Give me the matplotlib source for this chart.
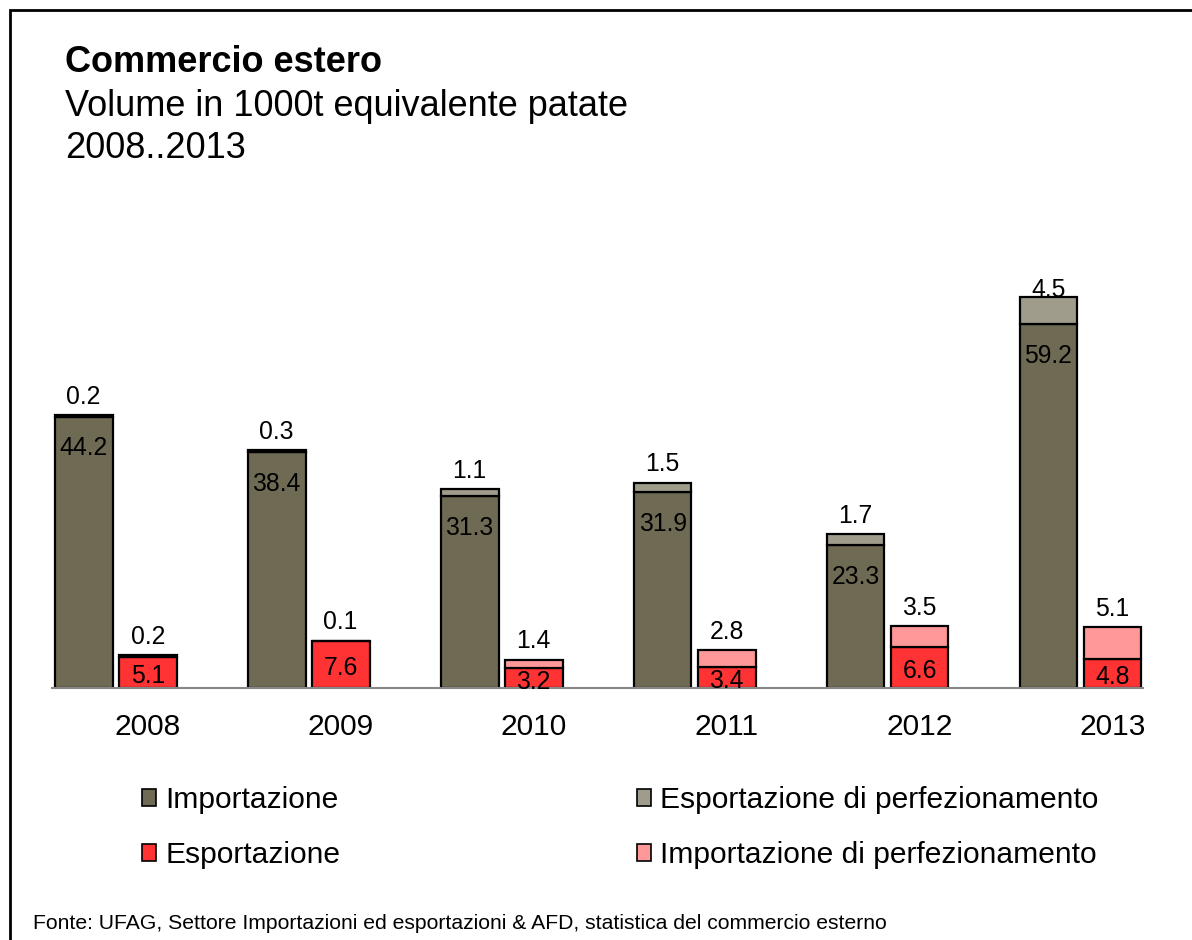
import numpy as np
import matplotlib
matplotlib.use("Agg")
import matplotlib.pyplot as plt
from matplotlib.patches import Rectangle, Patch

plt.rcParams['font.family'] = ['Liberation Sans', 'DejaVu Sans']

years = ['2008', '2009', '2010', '2011', '2012', '2013']
importazione = [44.2, 38.4, 31.3, 31.9, 23.3, 59.2]
esp_perf = [0.2, 0.3, 1.1, 1.5, 1.7, 4.5]
esportazione = [5.1, 7.6, 3.2, 3.4, 6.6, 4.8]
imp_perf = [0.2, 0.1, 1.4, 2.8, 3.5, 5.1]

c_imp = '#6f6a53'
c_espp = '#a09c8c'
c_esp = '#ff3333'
c_impp = '#ff9999'

W, H = 1192, 940
fig = plt.figure(figsize=(W / 100, H / 100), dpi=100)

# frame around the slide
fig.patches.append(Rectangle((10 / W, -0.5), 2, 1.5 - 10 / H, transform=fig.transFigure,
                             fill=False, edgecolor='black', linewidth=2))

ymax = 66.6
ax = fig.add_axes([52 / W, (H - 688) / H, 1091 / W, 409 / H])
x = np.arange(len(years))
off, bw = 0.166, 0.30
ek = dict(edgecolor='black', linewidth=1.6)

ax.bar(x - off, importazione, bw, color=c_imp, **ek)
ax.bar(x - off, esp_perf, bw, bottom=importazione, color=c_espp, **ek)
ax.bar(x + off, esportazione, bw, color=c_esp, **ek)
ax.bar(x + off, imp_perf, bw, bottom=esportazione, color=c_impp, **ek)

fs_lab = 17.8
for i in range(len(years)):
    b = importazione[i]
    ax.text(x[i] - off, b - 5.2, f'{b:.1f}', ha='center', va='center', fontsize=fs_lab)
    t = b + esp_perf[i]
    ax.text(x[i] - off, min(t + 3.0, ymax - 1.8), f'{esp_perf[i]:.1f}',
            ha='center', va='center', fontsize=fs_lab)
    r = esportazione[i]
    ax.text(x[i] + off, r / 2 - 0.6, f'{r:.1f}', ha='center', va='center', fontsize=fs_lab)
    t2 = r + imp_perf[i]
    ax.text(x[i] + off, min(t2 + 3.0, ymax - 1.8), f'{imp_perf[i]:.1f}',
            ha='center', va='center', fontsize=fs_lab)

ax.set_xlim(-0.33, 5.324)
ax.set_ylim(0, ymax)
ax.set_xticks(x + off)
ax.set_xticklabels(years, fontsize=21.5)
ax.tick_params(axis='x', length=0, pad=18)
ax.set_yticks([])
for s in ['top', 'right', 'left']:
    ax.spines[s].set_visible(False)
ax.spines['bottom'].set_color('#888888')
ax.spines['bottom'].set_linewidth(1.5)

# titles
fig.text(65 / W, 1 - 62 / H, 'Commercio estero', fontsize=26, fontweight='bold', va='center')
fig.text(65 / W, 1 - 106 / H, 'Volume in 1000t equivalente patate', fontsize=26, va='center')
fig.text(65 / W, 1 - 148 / H, '2008..2013', fontsize=26, va='center')

handles = [Patch(facecolor=c_imp, edgecolor='black', linewidth=1.2),
           Patch(facecolor=c_esp, edgecolor='black', linewidth=1.2),
           Patch(facecolor=c_espp, edgecolor='black', linewidth=1.2),
           Patch(facecolor=c_impp, edgecolor='black', linewidth=1.2)]
labels = ['Importazione', 'Esportazione',
          'Esportazione di perfezionamento', 'Importazione di perfezionamento']
fig.legend(handles, labels, ncol=2, loc='upper left', bbox_to_anchor=(142 / W, 1 - 786 / H),
           frameon=False, fontsize=21.6, handlelength=0.47, handleheight=0.47,
           handletextpad=0.3, columnspacing=9.9, labelspacing=0.9, borderpad=0,
           borderaxespad=0)

fig.text(33 / W, 1 - 929 / H,
         'Fonte: UFAG, Settore Importazioni ed esportazioni & AFD, statistica del commercio esterno',
         fontsize=15.2, va='baseline')

fig.savefig('out.png', dpi=100)
